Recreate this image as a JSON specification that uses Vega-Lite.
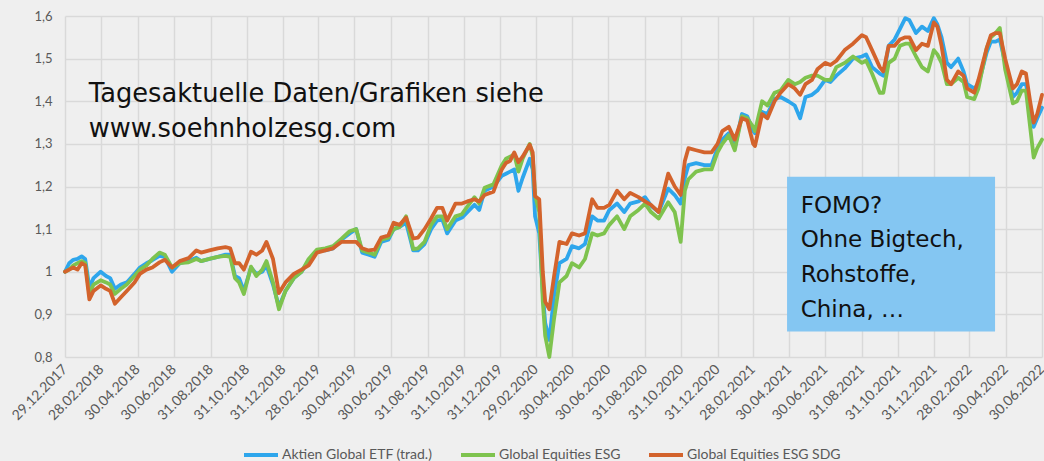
{
  "$schema": "https://vega.github.io/schema/vega-lite/v6.json",
  "width": 977,
  "height": 341,
  "autosize": {"type": "none"},
  "padding": {"left": 65, "top": 16, "right": 2, "bottom": 104},
  "background": "#efefef",
  "config": {
    "view": {"stroke": null},
    "font": "Lato",
    "axis": {"labelColor": "#595959", "labelFont": "Lato", "labelFontSize": 13, "gridColor": "#d9d9d9", "gridWidth": 1.5, "domain": false, "ticks": false, "title": null}
  },
  "layer": [
    {
      "data": {"values": [{"x1": "2021-04-27", "x2": "2022-04-12", "y1": 0.86, "y2": 1.223}]},
      "mark": {"type": "rect", "fill": "#84c6f2"},
      "encoding": {
        "x": {"field": "x1", "type": "temporal", "scale": {"type": "utc"}},
        "x2": {"field": "x2"},
        "y": {"field": "y1", "type": "quantitative"},
        "y2": {"field": "y2"}
      }
    },
    {
      "data": {"values": [
        {"d":"2017-12-29","a":1.0,"b":1.0,"c":1.0},
        {"d":"2018-01-05","a":1.02,"b":1.005,"c":1.005},
        {"d":"2018-01-12","a":1.028,"b":1.015,"c":1.01},
        {"d":"2018-01-19","a":1.03,"b":1.02,"c":1.005},
        {"d":"2018-01-26","a":1.036,"b":1.025,"c":1.02},
        {"d":"2018-02-01","a":1.03,"b":1.02,"c":1.015},
        {"d":"2018-02-08","a":0.963,"b":0.947,"c":0.935},
        {"d":"2018-02-15","a":0.985,"b":0.97,"c":0.955},
        {"d":"2018-02-27","a":1.0,"b":0.98,"c":0.968},
        {"d":"2018-03-08","a":0.99,"b":0.975,"c":0.96},
        {"d":"2018-03-15","a":0.985,"b":0.97,"c":0.955},
        {"d":"2018-03-23","a":0.96,"b":0.948,"c":0.925},
        {"d":"2018-04-02","a":0.97,"b":0.96,"c":0.94},
        {"d":"2018-04-12","a":0.975,"b":0.97,"c":0.955},
        {"d":"2018-04-25","a":0.995,"b":0.99,"c":0.975},
        {"d":"2018-05-04","a":1.01,"b":1.005,"c":0.995},
        {"d":"2018-05-15","a":1.02,"b":1.015,"c":1.005},
        {"d":"2018-05-25","a":1.027,"b":1.03,"c":1.01},
        {"d":"2018-06-06","a":1.037,"b":1.045,"c":1.022},
        {"d":"2018-06-15","a":1.035,"b":1.04,"c":1.028},
        {"d":"2018-06-27","a":1.0,"b":1.01,"c":1.01},
        {"d":"2018-07-10","a":1.02,"b":1.02,"c":1.025},
        {"d":"2018-07-25","a":1.025,"b":1.022,"c":1.032},
        {"d":"2018-08-07","a":1.033,"b":1.03,"c":1.05},
        {"d":"2018-08-15","a":1.025,"b":1.025,"c":1.045},
        {"d":"2018-08-29","a":1.03,"b":1.03,"c":1.05},
        {"d":"2018-09-12","a":1.035,"b":1.035,"c":1.055},
        {"d":"2018-09-25","a":1.04,"b":1.037,"c":1.058},
        {"d":"2018-10-03","a":1.04,"b":1.035,"c":1.055},
        {"d":"2018-10-11","a":0.99,"b":0.985,"c":1.02},
        {"d":"2018-10-18","a":0.985,"b":0.975,"c":1.02},
        {"d":"2018-10-26","a":0.955,"b":0.948,"c":1.005},
        {"d":"2018-11-07","a":1.01,"b":1.012,"c":1.047},
        {"d":"2018-11-16","a":0.995,"b":0.99,"c":1.04},
        {"d":"2018-11-26","a":1.0,"b":1.005,"c":1.05},
        {"d":"2018-12-03","a":1.015,"b":1.025,"c":1.07},
        {"d":"2018-12-14","a":0.97,"b":0.975,"c":1.03},
        {"d":"2018-12-24","a":0.918,"b":0.912,"c":0.95},
        {"d":"2019-01-04","a":0.955,"b":0.955,"c":0.975},
        {"d":"2019-01-18","a":0.985,"b":0.985,"c":0.995},
        {"d":"2019-01-31","a":1.0,"b":1.0,"c":1.005},
        {"d":"2019-02-12","a":1.025,"b":1.03,"c":1.015},
        {"d":"2019-02-26","a":1.05,"b":1.052,"c":1.045},
        {"d":"2019-03-12","a":1.05,"b":1.055,"c":1.05},
        {"d":"2019-03-25","a":1.055,"b":1.06,"c":1.055},
        {"d":"2019-04-08","a":1.075,"b":1.077,"c":1.07},
        {"d":"2019-04-22","a":1.09,"b":1.095,"c":1.07},
        {"d":"2019-05-03","a":1.1,"b":1.1,"c":1.07},
        {"d":"2019-05-13","a":1.045,"b":1.05,"c":1.055},
        {"d":"2019-05-24","a":1.04,"b":1.045,"c":1.05},
        {"d":"2019-06-03","a":1.035,"b":1.04,"c":1.052},
        {"d":"2019-06-14","a":1.07,"b":1.075,"c":1.08},
        {"d":"2019-06-26","a":1.075,"b":1.08,"c":1.085},
        {"d":"2019-07-05","a":1.1,"b":1.1,"c":1.115},
        {"d":"2019-07-15","a":1.105,"b":1.105,"c":1.11},
        {"d":"2019-07-26","a":1.115,"b":1.13,"c":1.127},
        {"d":"2019-08-07","a":1.05,"b":1.053,"c":1.078},
        {"d":"2019-08-15","a":1.05,"b":1.055,"c":1.08},
        {"d":"2019-08-26","a":1.065,"b":1.07,"c":1.1},
        {"d":"2019-09-06","a":1.1,"b":1.11,"c":1.125},
        {"d":"2019-09-16","a":1.12,"b":1.13,"c":1.15},
        {"d":"2019-09-25","a":1.122,"b":1.13,"c":1.15},
        {"d":"2019-10-03","a":1.09,"b":1.1,"c":1.12},
        {"d":"2019-10-17","a":1.12,"b":1.13,"c":1.16},
        {"d":"2019-10-28","a":1.127,"b":1.135,"c":1.16},
        {"d":"2019-11-06","a":1.14,"b":1.153,"c":1.165},
        {"d":"2019-11-18","a":1.157,"b":1.175,"c":1.17},
        {"d":"2019-11-26","a":1.145,"b":1.16,"c":1.165},
        {"d":"2019-12-05","a":1.19,"b":1.197,"c":1.18},
        {"d":"2019-12-20","a":1.2,"b":1.205,"c":1.188},
        {"d":"2020-01-03","a":1.225,"b":1.25,"c":1.24},
        {"d":"2020-01-10","a":1.23,"b":1.265,"c":1.255},
        {"d":"2020-01-17","a":1.235,"b":1.27,"c":1.26},
        {"d":"2020-01-24","a":1.24,"b":1.275,"c":1.28},
        {"d":"2020-01-31","a":1.19,"b":1.235,"c":1.257},
        {"d":"2020-02-07","a":1.22,"b":1.265,"c":1.27},
        {"d":"2020-02-19","a":1.265,"b":1.3,"c":1.298},
        {"d":"2020-02-24","a":1.24,"b":1.27,"c":1.28},
        {"d":"2020-02-28","a":1.13,"b":1.18,"c":1.177},
        {"d":"2020-03-06","a":1.09,"b":1.14,"c":1.17},
        {"d":"2020-03-12","a":0.95,"b":0.93,"c":1.0},
        {"d":"2020-03-16","a":0.88,"b":0.85,"c":0.93},
        {"d":"2020-03-23","a":0.84,"b":0.8,"c":0.912},
        {"d":"2020-03-31","a":0.945,"b":0.89,"c":0.99},
        {"d":"2020-04-09","a":1.02,"b":0.975,"c":1.07},
        {"d":"2020-04-21","a":1.03,"b":0.99,"c":1.065},
        {"d":"2020-04-30","a":1.06,"b":1.02,"c":1.09},
        {"d":"2020-05-12","a":1.055,"b":1.01,"c":1.085},
        {"d":"2020-05-22","a":1.065,"b":1.03,"c":1.09},
        {"d":"2020-06-03","a":1.13,"b":1.09,"c":1.17},
        {"d":"2020-06-12","a":1.12,"b":1.085,"c":1.15},
        {"d":"2020-06-23","a":1.12,"b":1.09,"c":1.15},
        {"d":"2020-07-02","a":1.145,"b":1.11,"c":1.157},
        {"d":"2020-07-15","a":1.16,"b":1.13,"c":1.19},
        {"d":"2020-07-27","a":1.14,"b":1.1,"c":1.17},
        {"d":"2020-08-06","a":1.16,"b":1.13,"c":1.185},
        {"d":"2020-08-20","a":1.165,"b":1.145,"c":1.175},
        {"d":"2020-08-31","a":1.175,"b":1.16,"c":1.165},
        {"d":"2020-09-10","a":1.155,"b":1.14,"c":1.157},
        {"d":"2020-09-23","a":1.14,"b":1.125,"c":1.14},
        {"d":"2020-10-09","a":1.195,"b":1.163,"c":1.23},
        {"d":"2020-10-20","a":1.18,"b":1.14,"c":1.2},
        {"d":"2020-10-30","a":1.16,"b":1.07,"c":1.18},
        {"d":"2020-11-06","a":1.22,"b":1.19,"c":1.26},
        {"d":"2020-11-12","a":1.25,"b":1.217,"c":1.29},
        {"d":"2020-11-25","a":1.255,"b":1.235,"c":1.285},
        {"d":"2020-12-09","a":1.25,"b":1.24,"c":1.28},
        {"d":"2020-12-21","a":1.25,"b":1.24,"c":1.28},
        {"d":"2020-12-31","a":1.29,"b":1.28,"c":1.3},
        {"d":"2021-01-08","a":1.31,"b":1.3,"c":1.33},
        {"d":"2021-01-19","a":1.325,"b":1.32,"c":1.34},
        {"d":"2021-01-29","a":1.29,"b":1.285,"c":1.31},
        {"d":"2021-02-10","a":1.37,"b":1.365,"c":1.36},
        {"d":"2021-02-19","a":1.365,"b":1.36,"c":1.355},
        {"d":"2021-03-01","a":1.33,"b":1.34,"c":1.3},
        {"d":"2021-03-04","a":1.325,"b":1.33,"c":1.295},
        {"d":"2021-03-16","a":1.375,"b":1.4,"c":1.37},
        {"d":"2021-03-25","a":1.37,"b":1.39,"c":1.36},
        {"d":"2021-04-06","a":1.405,"b":1.42,"c":1.4},
        {"d":"2021-04-16","a":1.41,"b":1.425,"c":1.42},
        {"d":"2021-04-29","a":1.4,"b":1.45,"c":1.44},
        {"d":"2021-05-10","a":1.39,"b":1.44,"c":1.43},
        {"d":"2021-05-19","a":1.36,"b":1.445,"c":1.415},
        {"d":"2021-05-28","a":1.41,"b":1.455,"c":1.44},
        {"d":"2021-06-08","a":1.415,"b":1.46,"c":1.45},
        {"d":"2021-06-17","a":1.425,"b":1.46,"c":1.475},
        {"d":"2021-06-30","a":1.45,"b":1.45,"c":1.49},
        {"d":"2021-07-09","a":1.445,"b":1.45,"c":1.485},
        {"d":"2021-07-19","a":1.46,"b":1.48,"c":1.495},
        {"d":"2021-08-02","a":1.477,"b":1.49,"c":1.52},
        {"d":"2021-08-16","a":1.5,"b":1.505,"c":1.535},
        {"d":"2021-08-31","a":1.505,"b":1.49,"c":1.555},
        {"d":"2021-09-07","a":1.51,"b":1.495,"c":1.55},
        {"d":"2021-09-17","a":1.48,"b":1.465,"c":1.52},
        {"d":"2021-09-30","a":1.465,"b":1.42,"c":1.48},
        {"d":"2021-10-06","a":1.46,"b":1.42,"c":1.47},
        {"d":"2021-10-15","a":1.53,"b":1.49,"c":1.53},
        {"d":"2021-10-25","a":1.545,"b":1.5,"c":1.53},
        {"d":"2021-11-03","a":1.57,"b":1.53,"c":1.545},
        {"d":"2021-11-12","a":1.595,"b":1.535,"c":1.55},
        {"d":"2021-11-19","a":1.59,"b":1.535,"c":1.55},
        {"d":"2021-11-30","a":1.56,"b":1.505,"c":1.52},
        {"d":"2021-12-10","a":1.575,"b":1.48,"c":1.535},
        {"d":"2021-12-20","a":1.565,"b":1.47,"c":1.53},
        {"d":"2021-12-30","a":1.595,"b":1.52,"c":1.585},
        {"d":"2022-01-05","a":1.58,"b":1.51,"c":1.575},
        {"d":"2022-01-12","a":1.55,"b":1.49,"c":1.53},
        {"d":"2022-01-21","a":1.49,"b":1.44,"c":1.45},
        {"d":"2022-01-28","a":1.48,"b":1.44,"c":1.44},
        {"d":"2022-02-09","a":1.5,"b":1.455,"c":1.47},
        {"d":"2022-02-18","a":1.47,"b":1.445,"c":1.46},
        {"d":"2022-02-24","a":1.44,"b":1.41,"c":1.43},
        {"d":"2022-03-08","a":1.43,"b":1.405,"c":1.42},
        {"d":"2022-03-15","a":1.44,"b":1.43,"c":1.45},
        {"d":"2022-03-29","a":1.515,"b":1.525,"c":1.525},
        {"d":"2022-04-05","a":1.54,"b":1.55,"c":1.555},
        {"d":"2022-04-13","a":1.54,"b":1.56,"c":1.56},
        {"d":"2022-04-20","a":1.545,"b":1.572,"c":1.56},
        {"d":"2022-04-29","a":1.49,"b":1.475,"c":1.5},
        {"d":"2022-05-12","a":1.41,"b":1.395,"c":1.43},
        {"d":"2022-05-19","a":1.42,"b":1.4,"c":1.44},
        {"d":"2022-05-27","a":1.44,"b":1.425,"c":1.47},
        {"d":"2022-06-03","a":1.44,"b":1.425,"c":1.465},
        {"d":"2022-06-10","a":1.39,"b":1.34,"c":1.4},
        {"d":"2022-06-16","a":1.34,"b":1.268,"c":1.35},
        {"d":"2022-06-22","a":1.36,"b":1.29,"c":1.37},
        {"d":"2022-06-30","a":1.385,"b":1.31,"c":1.415}
      ]},
      "transform": [{"fold": ["a", "b", "c"], "as": ["k", "v"]}],
      "mark": {"type": "line", "strokeWidth": 3.8, "strokeJoin": "round", "strokeCap": "round"},
      "encoding": {
        "x": {
          "field": "d", "type": "temporal",
          "scale": {"type": "utc", "domain": [{"year": 2017, "month": 12, "date": 29, "utc": true}, {"year": 2022, "month": 6, "date": 30, "utc": true}]},
          "axis": {
            "format": "%d.%m.%Y", "labelAngle": -45, "labelAlign": "right", "labelBaseline": "middle", "labelPadding": 10, "labelFontSize": 14, "labelOverlap": false, "tickCount": 40,
            "values": [
              {"year": 2017, "month": 12, "date": 29, "utc": true},
              {"year": 2018, "month": 2, "date": 28, "utc": true},
              {"year": 2018, "month": 4, "date": 30, "utc": true},
              {"year": 2018, "month": 6, "date": 30, "utc": true},
              {"year": 2018, "month": 8, "date": 31, "utc": true},
              {"year": 2018, "month": 10, "date": 31, "utc": true},
              {"year": 2018, "month": 12, "date": 31, "utc": true},
              {"year": 2019, "month": 2, "date": 28, "utc": true},
              {"year": 2019, "month": 4, "date": 30, "utc": true},
              {"year": 2019, "month": 6, "date": 30, "utc": true},
              {"year": 2019, "month": 8, "date": 31, "utc": true},
              {"year": 2019, "month": 10, "date": 31, "utc": true},
              {"year": 2019, "month": 12, "date": 31, "utc": true},
              {"year": 2020, "month": 2, "date": 29, "utc": true},
              {"year": 2020, "month": 4, "date": 30, "utc": true},
              {"year": 2020, "month": 6, "date": 30, "utc": true},
              {"year": 2020, "month": 8, "date": 31, "utc": true},
              {"year": 2020, "month": 10, "date": 31, "utc": true},
              {"year": 2020, "month": 12, "date": 31, "utc": true},
              {"year": 2021, "month": 2, "date": 28, "utc": true},
              {"year": 2021, "month": 4, "date": 30, "utc": true},
              {"year": 2021, "month": 6, "date": 30, "utc": true},
              {"year": 2021, "month": 8, "date": 31, "utc": true},
              {"year": 2021, "month": 10, "date": 31, "utc": true},
              {"year": 2021, "month": 12, "date": 31, "utc": true},
              {"year": 2022, "month": 2, "date": 28, "utc": true},
              {"year": 2022, "month": 4, "date": 30, "utc": true},
              {"year": 2022, "month": 6, "date": 30, "utc": true}
            ]
          }
        },
        "y": {
          "field": "v", "type": "quantitative",
          "scale": {"domain": [0.8, 1.6], "zero": false, "nice": false},
          "axis": {"values": [0.8, 0.9, 1.0, 1.1, 1.2, 1.3, 1.4, 1.5, 1.6], "labelExpr": "replace(format(datum.value, '.1~f'), '.', ',')", "labelPadding": 13, "tickCount": 20}
        },
        "color": {
          "field": "k", "type": "nominal",
          "scale": {"domain": ["a", "b", "c"], "range": ["#2ea6ec", "#7ec34e", "#d3632c"]},
          "legend": {
            "orient": "none", "legendX": 177, "legendY": 420, "direction": "horizontal", "title": null, "padding": 0,
            "symbolType": "stroke", "symbolSize": 1156, "symbolStrokeWidth": 4,
            "labelFontSize": 14, "labelColor": "#595959", "labelFont": "Lato", "labelOffset": 2, "columnPadding": 20,
            "labelExpr": "datum.label == 'a' ? 'Aktien Global ETF (trad.)' : datum.label == 'b' ? 'Global Equities ESG' : 'Global Equities ESG SDG'"
          }
        }
      }
    },
    {
      "data": {"values": [
        {"d": "2018-02-07", "v": 1.399, "t": "Tagesaktuelle Daten/Grafiken siehe"},
        {"d": "2018-02-07", "v": 1.317, "t": "www.soehnholzesg.com"}
      ]},
      "mark": {"type": "text", "align": "left", "baseline": "alphabetic", "fontSize": 25.7, "font": "DejaVu Sans", "color": "#111111"},
      "encoding": {
        "x": {"field": "d", "type": "temporal"},
        "y": {"field": "v", "type": "quantitative"},
        "text": {"field": "t"}
      }
    },
    {
      "data": {"values": [
        {"d": "2021-05-20", "v": 1.139, "t": "FOMO?"},
        {"d": "2021-05-20", "v": 1.057, "t": "Ohne Bigtech,"},
        {"d": "2021-05-20", "v": 0.975, "t": "Rohstoffe,"},
        {"d": "2021-05-20", "v": 0.893, "t": "China, …"}
      ]},
      "mark": {"type": "text", "align": "left", "baseline": "alphabetic", "fontSize": 23, "font": "DejaVu Sans", "color": "#111111"},
      "encoding": {
        "x": {"field": "d", "type": "temporal"},
        "y": {"field": "v", "type": "quantitative"},
        "text": {"field": "t"}
      }
    }
  ]
}
